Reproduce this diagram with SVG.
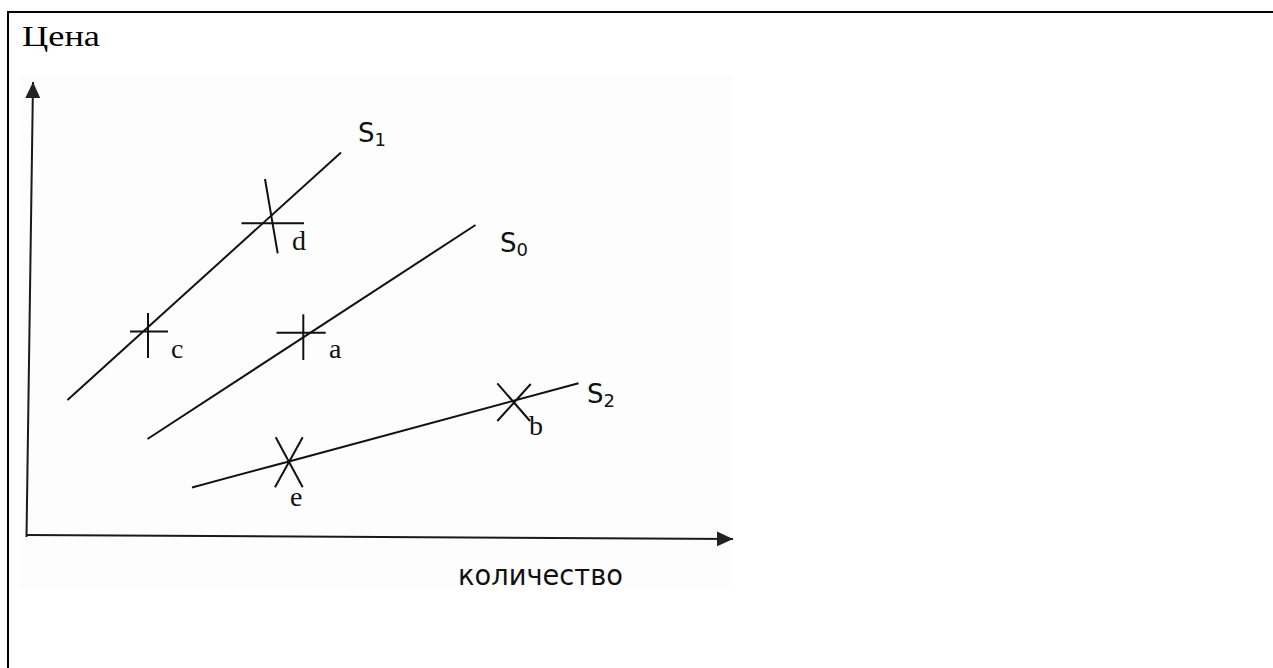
<svg xmlns="http://www.w3.org/2000/svg" width="1273" height="668" viewBox="0 0 1273 668">
  <style>
    .ln { stroke: #111; stroke-width: 2; fill: none; stroke-linecap: butt; }
    .ax { stroke: #1a1a1a; stroke-width: 2; fill: none; }
    .pt { font-family: "Liberation Serif", "Times New Roman", serif; font-size: 28px; fill: #111; }
    .sl { font-family: "DejaVu Sans", Verdana, sans-serif; font-size: 26px; fill: #111; }
    .sub { font-size: 18px; }
    .title { font-family: "Liberation Serif", "Times New Roman", serif; font-size: 30px; fill: #000; }
    .axl { font-family: "DejaVu Sans", Verdana, sans-serif; font-size: 28px; fill: #111; }
  </style>
  <defs>
    <marker id="arr" markerWidth="16" markerHeight="15" refX="16" refY="7.5" orient="auto" markerUnits="userSpaceOnUse">
      <path d="M0,0 L16,7.5 L0,15 z" fill="#222"/>
    </marker>
  </defs>
  <rect x="0" y="0" width="1273" height="668" fill="#fff"/>
  <g id="frame">
    <line x1="7" y1="12" x2="1273" y2="12" stroke="#000" stroke-width="2"/>
    <line x1="8" y1="11" x2="8" y2="668" stroke="#000" stroke-width="2"/>
  </g>
  <rect x="20" y="76" width="713" height="514" fill="#fdfdfd"/>
  <text id="title" class="title" x="22" y="46" textLength="78" lengthAdjust="spacingAndGlyphs">Цена</text>

  <g id="axes">
    <line class="ax" x1="26.5" y1="537" x2="33" y2="82" marker-end="url(#arr)"/>
    <line class="ax" x1="26" y1="535" x2="733" y2="539" marker-end="url(#arr)"/>
    <text class="axl" x="458" y="585" textLength="165" lengthAdjust="spacingAndGlyphs">количество</text>
  </g>

  <g id="connectors">
    <line id="S1-line" class="ln" x1="67.5" y1="400" x2="341" y2="152.5"/>
    <line id="S0-line" class="ln" x1="147.5" y1="439" x2="475.5" y2="225"/>
    <path id="S2-line" class="ln" d="M192,487.5 Q230,477 288,461.7 L578.5,383.3"/>
  </g>

  <g id="S1">
    <text class="sl" x="358" y="142">S<tspan class="sub" dy="4">1</tspan></text>
  </g>
  <g id="S0">
    <text class="sl" x="500" y="252">S<tspan class="sub" dy="4">0</tspan></text>
  </g>
  <g id="S2">
    <text class="sl" x="587" y="403">S<tspan class="sub" dy="4">2</tspan></text>
  </g>

  <g id="point-c">
    <line class="ln" x1="130" y1="331.5" x2="168" y2="331.5"/>
    <line class="ln" x1="148" y1="313" x2="148" y2="358"/>
    <text class="pt" x="171" y="358">c</text>
  </g>
  <g id="point-d">
    <line class="ln" x1="241.5" y1="223.3" x2="304" y2="223.3"/>
    <line class="ln" x1="265" y1="179" x2="277.7" y2="253.3"/>
    <text class="pt" x="292" y="250">d</text>
  </g>
  <g id="point-a">
    <line class="ln" x1="276.5" y1="332.7" x2="325.7" y2="332.7"/>
    <line class="ln" x1="303.3" y1="314.3" x2="303.3" y2="360"/>
    <text class="pt" x="329" y="358">a</text>
  </g>
  <g id="point-e">
    <line class="ln" x1="275.7" y1="437.3" x2="302.7" y2="487.3"/>
    <line class="ln" x1="302.7" y1="437.3" x2="275" y2="487.3"/>
    <text class="pt" x="290" y="506">e</text>
  </g>
  <g id="point-b">
    <line class="ln" x1="497.3" y1="383.3" x2="530" y2="421"/>
    <line class="ln" x1="530.7" y1="384" x2="497.3" y2="421"/>
    <text class="pt" x="529" y="435">b</text>
  </g>
</svg>
